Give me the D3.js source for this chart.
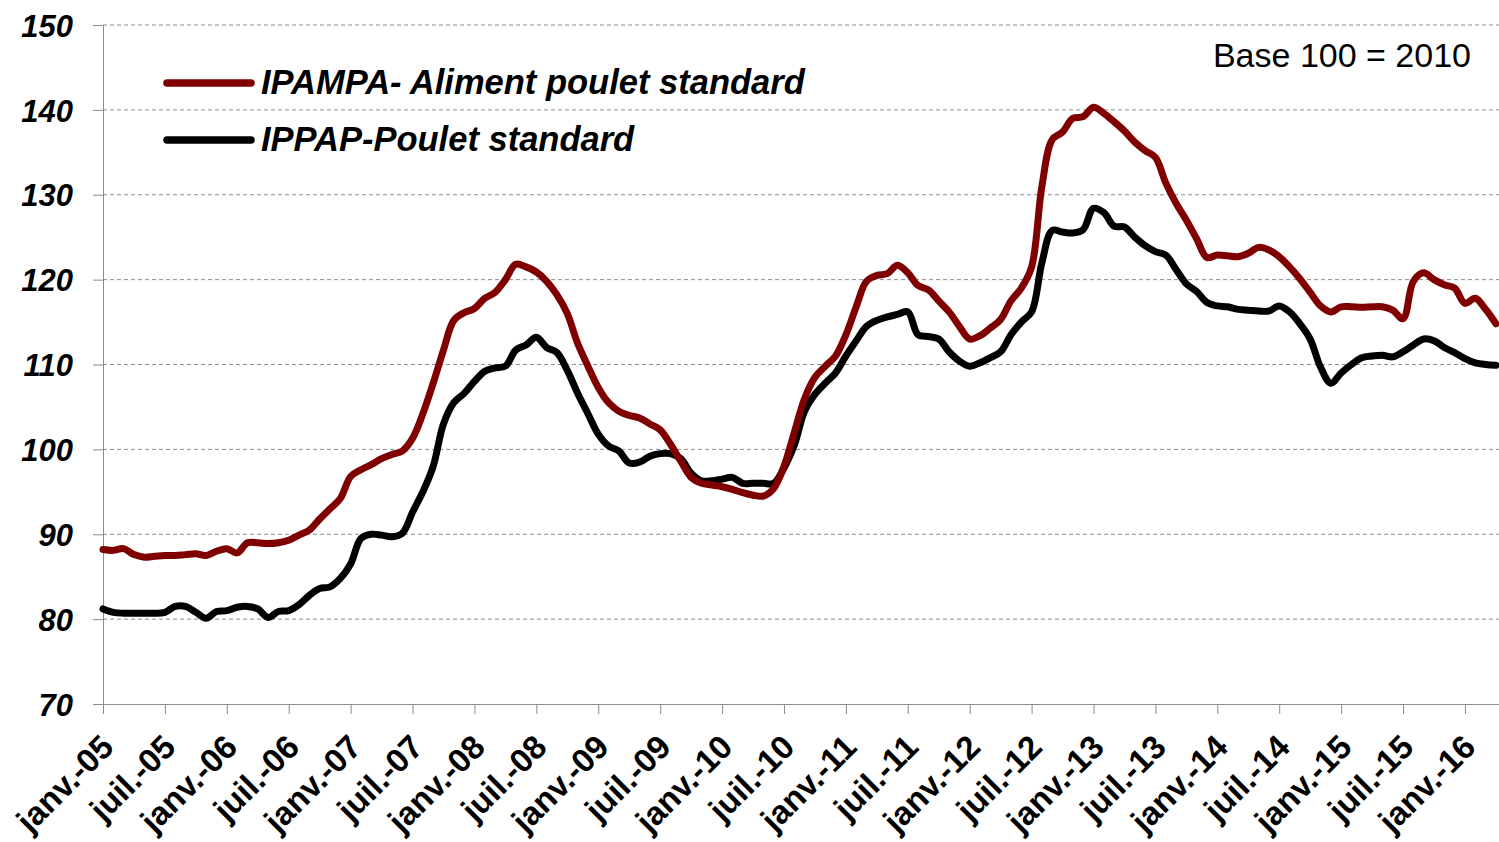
<!DOCTYPE html>
<html>
<head>
<meta charset="utf-8">
<script src="https://cdn.jsdelivr.net/npm/d3@7"></script>
<style>
  html, body { margin: 0; padding: 0; background: #fff; overflow: hidden; }
  text { font-family: "Liberation Sans", Arial, sans-serif; }
</style>
</head>
<body>
<div id="chart"></div>
<script>
// Monthly indices, janv. 2005 -> avr. 2016 (base 100 = 2010)
const ipampa = [
  88.2, 88.1, 88.3, 87.6, 87.3, 87.4, 87.5, 87.5, 87.6, 87.7, 87.5, 88.0,
  88.3, 87.8, 89.0, 89.0, 88.9, 89.0, 89.3, 89.9, 90.5, 91.8, 93.0, 94.2,
  96.8, 97.6, 98.2, 98.9, 99.4, 99.8, 101.3, 104.2, 107.8, 111.7, 115.2, 116.1,
  116.6, 117.8, 118.5, 120.0, 121.8, 121.5, 120.9, 119.8, 118.2, 116.0, 112.5, 109.8,
  107.3, 105.5, 104.5, 104.0, 103.7, 103.0, 102.3, 100.6, 98.6, 96.7, 96.0, 95.8,
  95.6, 95.3, 94.9, 94.6, 94.5, 95.4, 98.0, 102.0, 106.0, 108.5, 109.8, 111.0,
  113.5, 116.8, 119.8, 120.5, 120.7, 121.7, 120.8, 119.3, 118.8, 117.5, 116.2, 114.5,
  113.0, 113.4, 114.3, 115.3, 117.5, 119.0, 121.5, 131.0, 136.5, 137.4, 139.0, 139.2,
  140.3, 139.6, 138.6, 137.5, 136.2, 135.2, 134.4, 131.4, 129.0, 127.0, 124.8, 122.6,
  122.9, 122.8, 122.7, 123.1, 123.8, 123.5, 122.7, 121.5, 120.1, 118.5, 116.9, 116.2,
  116.8, 116.8, 116.75, 116.8, 116.8, 116.4, 115.4, 119.8, 120.8, 120.0, 119.4, 119.0,
  117.2, 117.8, 116.5, 114.8
];
const ippap = [
  81.2, 80.8, 80.7, 80.7, 80.7, 80.7, 80.8, 81.5, 81.5, 80.8, 80.1, 80.9,
  81.0, 81.4, 81.5, 81.2, 80.2, 80.9, 81.0, 81.7, 82.8, 83.6, 83.8, 84.8,
  86.5, 89.5, 90.0, 89.9, 89.7, 90.1, 92.6, 95.0, 98.0, 103.0, 105.5, 106.6,
  108.0, 109.2, 109.6, 109.8, 111.7, 112.3, 113.2, 112.0, 111.4, 109.3, 106.6, 104.2,
  101.8, 100.4, 99.8, 98.4, 98.5, 99.2, 99.5, 99.5, 98.9, 97.2, 96.3, 96.3,
  96.5, 96.7, 96.0, 96.0, 96.0, 96.0, 97.8, 100.5, 104.5, 106.5, 107.8, 109.0,
  111.0, 112.8, 114.5, 115.2, 115.6, 115.9, 116.2, 113.5, 113.3, 113.0, 111.5, 110.4,
  109.8, 110.2, 110.8, 111.5, 113.5, 115.0, 116.2, 122.0, 125.8, 125.6, 125.5, 125.9,
  128.4, 127.9, 126.3, 126.2, 125.0, 124.0, 123.3, 122.9, 121.2, 119.5, 118.6, 117.3,
  116.9, 116.8, 116.5, 116.4, 116.3, 116.3, 116.9, 116.2, 114.8, 113.0, 109.7, 107.8,
  109.0, 110.0, 110.8, 111.0, 111.1, 110.9, 111.5, 112.3, 113.0, 112.8, 112.0, 111.4,
  110.7, 110.2, 110.0, 109.9
];
const tickLabels = [
  "janv.-05", "juil.-05", "janv.-06", "juil.-06", "janv.-07", "juil.-07",
  "janv.-08", "juil.-08", "janv.-09", "juil.-09", "janv.-10", "juil.-10",
  "janv.-11", "juil.-11", "janv.-12", "juil.-12", "janv.-13", "juil.-13",
  "janv.-14", "juil.-14", "janv.-15", "juil.-15", "janv.-16"
];
const yTicks = [70, 80, 90, 100, 110, 120, 130, 140, 150];
const seriesNames = ["IPAMPA- Aliment poulet standard", "IPPAP-Poulet standard"];
const seriesColors = ["#800000", "#000000"];

const W = 1499, H = 842;
const plot = { left: 103, right: 1499, top: 25, bottom: 704 };

const svg = d3.select("#chart").append("svg")
    .attr("width", W)
    .attr("height", H);

// scales (month index on x)
const x = d3.scaleLinear().domain([0, 135.3]).range([plot.left, plot.right]);
const y = d3.scaleLinear().domain([70, 150]).range([plot.bottom, plot.top]);

// gridlines
svg.append("g")
  .selectAll("line")
  .data(yTicks.filter(v => v > 70))
  .enter().append("line")
    .attr("x1", plot.left).attr("x2", plot.right)
    .attr("y1", d => y(d)).attr("y2", d => y(d))
    .attr("stroke", "#8c8c8c")
    .attr("stroke-width", 1)
    .attr("stroke-dasharray", "4,3");

// y axis
const yAxis = svg.append("g")
    .attr("transform", `translate(${plot.left},0)`)
    .call(d3.axisLeft(y).tickValues(yTicks).tickSize(10).tickSizeOuter(0).tickPadding(20));
yAxis.select(".domain").attr("stroke", "#8c8c8c");
yAxis.selectAll(".tick line").attr("stroke", "#8c8c8c");
yAxis.selectAll(".tick text")
    .attr("fill", "#000")
    .style("font-size", "31px")
    .style("font-weight", "bold")
    .style("font-style", "italic")
    .attr("dy", "0.36em");

// x axis
const tickIdx = tickLabels.map((d, i) => i * 6);
const xAxis = svg.append("g")
    .attr("transform", `translate(0,${plot.bottom})`)
    .call(d3.axisBottom(x).tickValues(tickIdx).tickSize(10)
      .tickSizeOuter(0)
      .tickFormat((d, i) => tickLabels[i]));
xAxis.select(".domain").attr("stroke", "#8c8c8c");
xAxis.selectAll(".tick line").attr("stroke", "#8c8c8c");
xAxis.selectAll(".tick text")
    .attr("fill", "#000")
    .style("font-size", "33px")
    .style("font-weight", "bold")
    .attr("text-anchor", "end")
    .attr("dy", null)
    .attr("y", 0)
    .attr("transform", "translate(12,45) rotate(-45)");

// lines
const line = d3.line()
    .x((d, i) => x(i))
    .y(d => y(d))
    .curve(d3.curveCatmullRom.alpha(0.5));

[ippap, ipampa].forEach((s, k) => {
  svg.append("path")
    .datum(s)
    .attr("fill", "none")
    .attr("stroke", k === 0 ? seriesColors[1] : seriesColors[0])
    .attr("stroke-width", 7)
    .attr("stroke-linejoin", "round")
    .attr("stroke-linecap", "round")
    .attr("d", line);
});

// legend
const legend = svg.append("g");
seriesNames.forEach((name, i) => {
  const ly = 83 + i * 57;
  legend.append("line")
    .attr("x1", 167).attr("x2", 251)
    .attr("y1", ly).attr("y2", ly)
    .attr("stroke", seriesColors[i])
    .attr("stroke-width", 7.5)
    .attr("stroke-linecap", "round");
  legend.append("text")
    .attr("x", 261)
    .attr("y", ly + 11)
    .style("font-size", "34.5px")
    .style("font-weight", "bold")
    .style("font-style", "italic")
    .text(name);
});

// base note
svg.append("text")
    .attr("x", 1471)
    .attr("y", 67)
    .attr("text-anchor", "end")
    .style("font-size", "34px")
    .text("Base 100 = 2010");
</script>
</body>
</html>
